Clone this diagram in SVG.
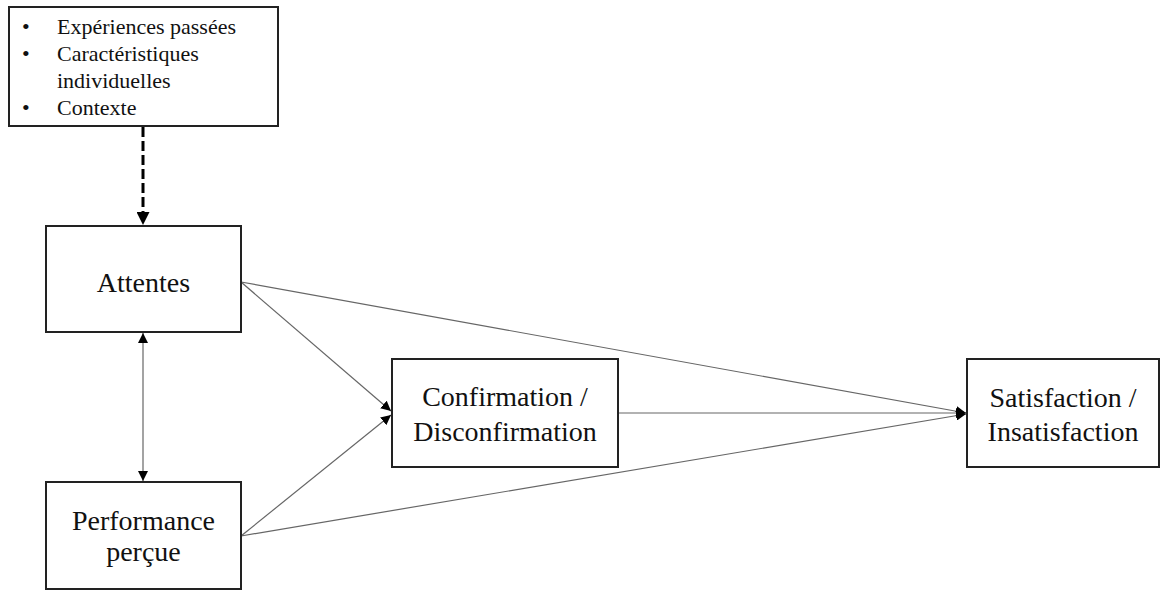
<svg xmlns="http://www.w3.org/2000/svg" width="1160" height="590" viewBox="0 0 1160 590">
<defs>
<style>
.box{fill:#fff;stroke:#222;stroke-width:2}
.t{font-family:"Liberation Serif","Times New Roman",serif;fill:#111;font-size:28px;text-anchor:middle}
.s{font-family:"Liberation Serif","Times New Roman",serif;fill:#111;font-size:22px}
.ln{stroke:#666;stroke-width:1.2;fill:none}
</style>
<marker id="ah" viewBox="0 0 10 10" refX="10" refY="5" markerWidth="10" markerHeight="10" markerUnits="userSpaceOnUse" orient="auto-start-reverse">
<path d="M0,0 L10,5 L0,10 z" fill="#000"/>
</marker>
<marker id="ahd" viewBox="0 0 10 10" refX="10" refY="5" markerWidth="13" markerHeight="13" markerUnits="userSpaceOnUse" orient="auto">
<path d="M0,0 L10,5 L0,10 z" fill="#000"/>
</marker>
</defs>
<rect width="1160" height="590" fill="#fff"/>
<g id="connectors">
<line x1="143" y1="127" x2="143" y2="225" stroke="#000" stroke-width="3" stroke-dasharray="10,4" marker-end="url(#ahd)"/>
<line class="ln" x1="143" y1="333" x2="143" y2="481" marker-start="url(#ah)" marker-end="url(#ah)"/>
<line class="ln" x1="241" y1="282" x2="391" y2="411" marker-end="url(#ah)"/>
<line class="ln" x1="241" y1="536" x2="391" y2="415" marker-end="url(#ah)"/>
<line class="ln" x1="241" y1="282" x2="966" y2="413" marker-end="url(#ah)"/>
<line class="ln" x1="618" y1="413" x2="966" y2="413" marker-end="url(#ah)"/>
<line class="ln" x1="241" y1="536" x2="966" y2="414" marker-end="url(#ah)"/>
</g>
<g id="facteurs">
<rect class="box" x="9" y="7" width="269" height="119"/>
<text class="s" x="22" y="34">•</text>
<text class="s" x="57" y="34">Expériences passées</text>
<text class="s" x="22" y="61">•</text>
<text class="s" x="57" y="61">Caractéristiques</text>
<text class="s" x="57" y="88">individuelles</text>
<text class="s" x="22" y="115">•</text>
<text class="s" x="57" y="115">Contexte</text>
</g>
<g id="attentes">
<rect class="box" x="46" y="226" width="195" height="106"/>
<text class="t" x="143.5" y="292">Attentes</text>
</g>
<g id="performance">
<rect class="box" x="46" y="482" width="195" height="107"/>
<text class="t" x="143.5" y="530">Performance</text>
<text class="t" x="143.5" y="561">perçue</text>
</g>
<g id="confirmation">
<rect class="box" x="392" y="359" width="226" height="108"/>
<text class="t" x="505" y="406">Confirmation /</text>
<text class="t" x="505" y="441">Disconfirmation</text>
</g>
<g id="satisfaction">
<rect class="box" x="967" y="359" width="192" height="108"/>
<text class="t" x="1063" y="407">Satisfaction /</text>
<text class="t" x="1063" y="441">Insatisfaction</text>
</g>
</svg>
